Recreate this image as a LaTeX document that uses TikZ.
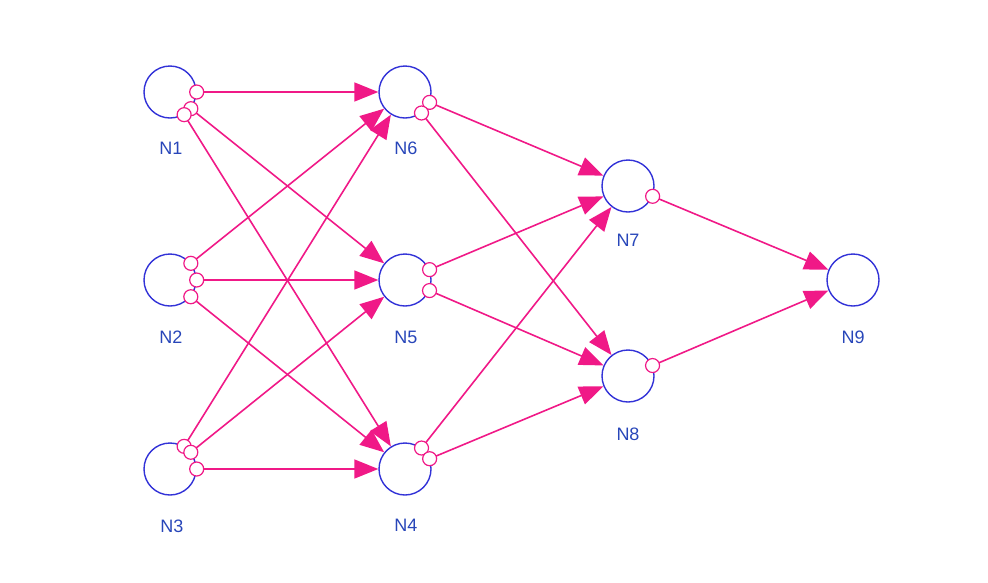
\documentclass[tikz,border=0pt]{standalone}
\usepackage{fontspec}
\setmainfont{Liberation Sans}
\usetikzlibrary{arrows.meta}
\definecolor{nblue}{RGB}{50,50,215}
\definecolor{npink}{RGB}{240,25,135}
\definecolor{lblue}{RGB}{40,70,185}
\begin{document}
\begin{tikzpicture}[x=1pt,y=-1pt,
 neuron/.style={circle,draw=nblue,line width=1.4pt,minimum size=52pt,inner sep=0pt},
 conn/.style={draw=npink,line width=1.6pt,-{Triangle[length=24pt,width=19pt]}},
 outc/.style={circle,draw=npink,fill=white,line width=1.2pt,minimum size=14pt,inner sep=0pt},
 lab/.style={text=lblue,font=\fontsize{18}{18}\selectfont,inner sep=0pt}]
\useasboundingbox (0,0) rectangle (988,582);
\node[neuron] (N1) at (170,92) {};
\node[neuron] (N2) at (170,280) {};
\node[neuron] (N3) at (170,469) {};
\node[neuron] (N6) at (405,92) {};
\node[neuron] (N5) at (405,280) {};
\node[neuron] (N4) at (405,469) {};
\node[neuron] (N7) at (628,186) {};
\node[neuron] (N8) at (628,376) {};
\node[neuron] (N9) at (853,280) {};
\node[lab] (L1) at (171,148) {N1};
\node[lab] (L2) at (171,337) {N2};
\node[lab] (L3) at (172,526) {N3};
\node[lab] (L6) at (406,148) {N6};
\node[lab] (L5) at (406,337) {N5};
\node[lab] (L4) at (406,525) {N4};
\node[lab] (L7) at (628,240) {N7};
\node[lab] (L8) at (628,434) {N8};
\node[lab] (L9) at (853,337) {N9};
\foreach \s in {N1,N2,N3}{
  \foreach \t in {N6,N5,N4}{
    \draw[conn] (\s) -- node[outc,pos=0]{} (\t);
  }
}
\foreach \s in {N6,N5,N4}{
  \foreach \t in {N7,N8}{
    \draw[conn] (\s) -- node[outc,pos=0]{} (\t);
  }
}
\foreach \s in {N7,N8}{
  \draw[conn] (\s) -- node[outc,pos=0]{} (N9);
}
\end{tikzpicture}
\end{document}
